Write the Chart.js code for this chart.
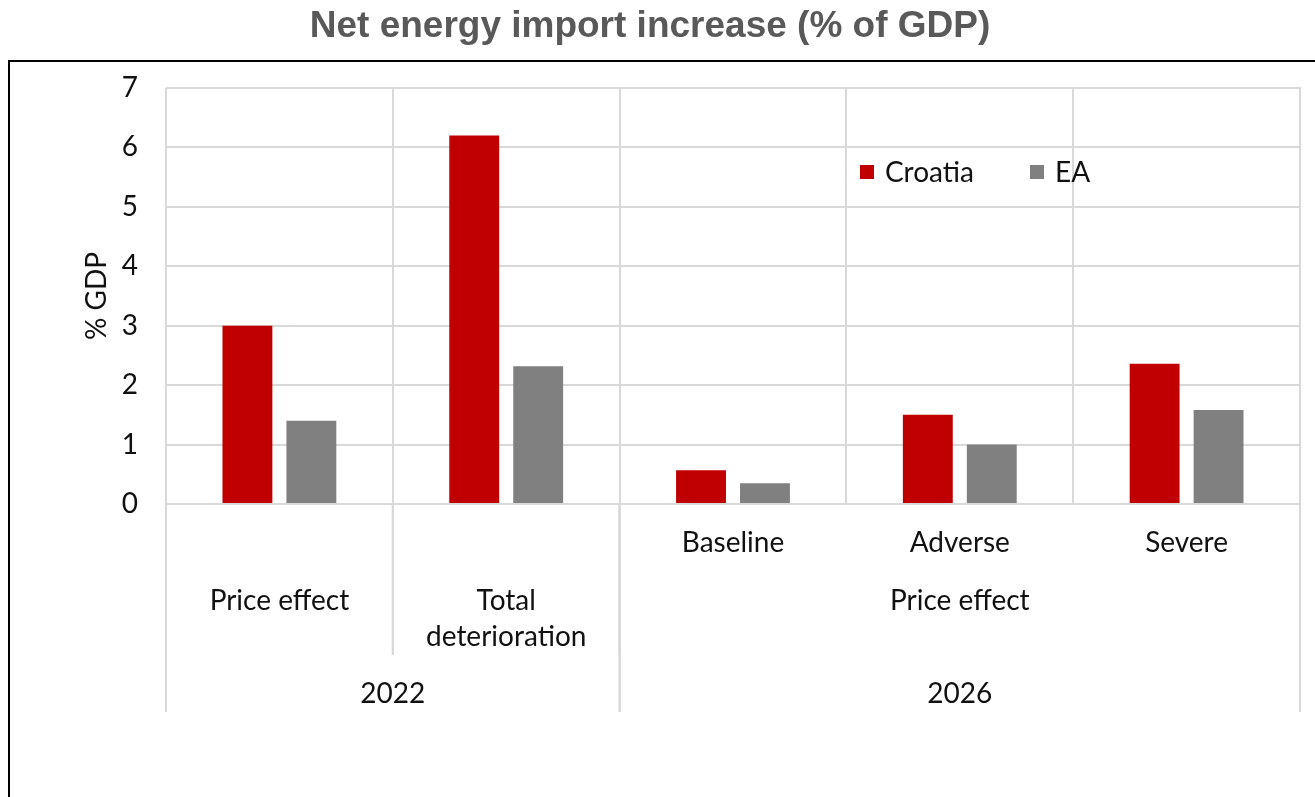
<!DOCTYPE html>
<html>
<head>
<meta charset="utf-8">
<script src="https://cdn.jsdelivr.net/npm/chart.js@4"></script>
<style>
  html, body { margin: 0; padding: 0; background: #fff; }
  #wrap { width: 1315px; height: 797px; }
</style>
</head>
<body>
<div id="wrap"><canvas id="energyChart" width="1315" height="797"></canvas></div>
<script>
// chart data
const categories = ['Price effect', 'Total deterioration', 'Baseline', 'Adverse', 'Severe'];
const croatia = [3.0, 6.2, 0.57, 1.5, 2.36];
const ea = [1.4, 2.32, 0.35, 1.0, 1.58];
const yTicks = [0, 1, 2, 3, 4, 5, 6, 7];

// multi-level x axis labels
const leafLabels = ['', '', 'Baseline', 'Adverse', 'Severe'];
const midGroups = [
    { text: ['Price effect'], from: 0, to: 0 },
    { text: ['Total', 'deterioration'], from: 1, to: 1 },
    { text: ['Price effect'], from: 2, to: 4 }
];
const yearGroups = [
    { text: '2022', from: 0, to: 1 },
    { text: '2026', from: 2, to: 4 }
];

const labelFont = '28px Lato, "Noto Sans", sans-serif';
const gridColor = '#d9d9d9';

// draws the frame, the grouped category axis and the legend
const extrasPlugin = {
    id: 'extras',
    beforeDraw(chart) {
        const ctx = chart.ctx;
        ctx.save();
        ctx.strokeStyle = '#000';
        ctx.lineWidth = 2;
        ctx.beginPath();
        ctx.moveTo(chart.width, 61);
        ctx.lineTo(9, 61);
        ctx.lineTo(9, chart.height);
        ctx.stroke();
        ctx.restore();
    },
    afterDraw(chart) {
        const ctx = chart.ctx;
        const x = chart.scales.x;
        const area = chart.chartArea;
        const half = (x.getPixelForValue(1) - x.getPixelForValue(0)) / 2;
        const edgeL = i => x.getPixelForValue(i) - half;
        const edgeR = i => x.getPixelForValue(i) + half;
        const zeroY = chart.scales.y.getPixelForValue(0);

        ctx.save();
        ctx.strokeStyle = gridColor;
        ctx.lineWidth = 2;
        // right edge of the plot (the grid line there is half clipped)
        ctx.beginPath();
        ctx.moveTo(area.right, area.top - 1);
        ctx.lineTo(area.right, zeroY + 208);
        ctx.stroke();
        // separators between middle groups
        midGroups.forEach(function (g) {
            [edgeL(g.from), edgeR(g.to)].forEach(function (px) {
                ctx.beginPath();
                ctx.moveTo(px, zeroY);
                ctx.lineTo(px, zeroY + 151);
                ctx.stroke();
            });
        });
        // separators between years
        yearGroups.forEach(function (g) {
            [edgeL(g.from), edgeR(g.to)].forEach(function (px) {
                ctx.beginPath();
                ctx.moveTo(px, zeroY);
                ctx.lineTo(px, zeroY + 208);
                ctx.stroke();
            });
        });

        ctx.fillStyle = '#111';
        ctx.font = labelFont;
        ctx.textAlign = 'center';
        ctx.textBaseline = 'middle';
        leafLabels.forEach(function (t, i) {
            if (t) ctx.fillText(t, x.getPixelForValue(i), zeroY + 39);
        });
        midGroups.forEach(function (g) {
            const cx = (edgeL(g.from) + edgeR(g.to)) / 2;
            g.text.forEach(function (line, k) {
                ctx.fillText(line, cx, zeroY + 97 + k * 36);
            });
        });
        yearGroups.forEach(function (g) {
            const cx = (edgeL(g.from) + edgeR(g.to)) / 2;
            ctx.fillText(g.text, cx, zeroY + 190);
        });

        // legend inside the plot area
        let lx = area.left + 694;
        const ly = area.top + 84;
        ctx.textAlign = 'left';
        chart.data.datasets.forEach(function (ds) {
            ctx.fillStyle = ds.backgroundColor;
            ctx.fillRect(lx, ly - 7, 14, 14);
            ctx.fillStyle = '#111';
            ctx.fillText(ds.label, lx + 25, ly + 1);
            lx += 170;
        });
        ctx.restore();
    }
};

new Chart(document.getElementById('energyChart'), {
    type: 'bar',
    data: {
        labels: categories,
        datasets: [
            { label: 'Croatia', data: croatia, backgroundColor: '#C00000' },
            { label: 'EA', data: ea, backgroundColor: '#808080' }
        ]
    },
    options: {
        responsive: false,
        animation: false,
        categoryPercentage: 0.564,
        barPercentage: 0.78,
        layout: { padding: { left: 0, right: 15, top: 0, bottom: 0 } },
        plugins: {
            legend: { display: false },
            tooltip: { enabled: false },
            title: {
                display: true,
                text: 'Net energy import increase (% of GDP)',
                color: '#595959',
                font: { family: '"Liberation Sans", Arial, sans-serif', size: 37, weight: 'bold', lineHeight: 1.2 },
                padding: { top: 5, bottom: 38.6 }
            }
        },
        scales: {
            x: {
                ticks: { display: false },
                grid: { color: gridColor, lineWidth: 2, drawTicks: false, offset: true },
                border: { display: false },
                afterFit: function (scale) { scale.height = 293; }
            },
            y: {
                min: 0,
                max: 7,
                afterBuildTicks: function (scale) {
                    scale.ticks = yTicks.map(v => ({ value: v }));
                },
                ticks: {
                    color: '#111',
                    font: { family: 'Lato, "Noto Sans", sans-serif', size: 28 },
                    padding: 28
                },
                grid: { color: gridColor, lineWidth: 2, drawTicks: false },
                border: { display: false },
                title: {
                    display: true,
                    text: '% GDP',
                    color: '#111',
                    font: { family: 'Lato, "Noto Sans", sans-serif', size: 28, lineHeight: 1.2 },
                    padding: { top: 80, bottom: 0 }
                },
                afterFit: function (scale) { scale.width = 166; }
            }
        }
    },
    plugins: [extrasPlugin]
});
</script>
</body>
</html>
